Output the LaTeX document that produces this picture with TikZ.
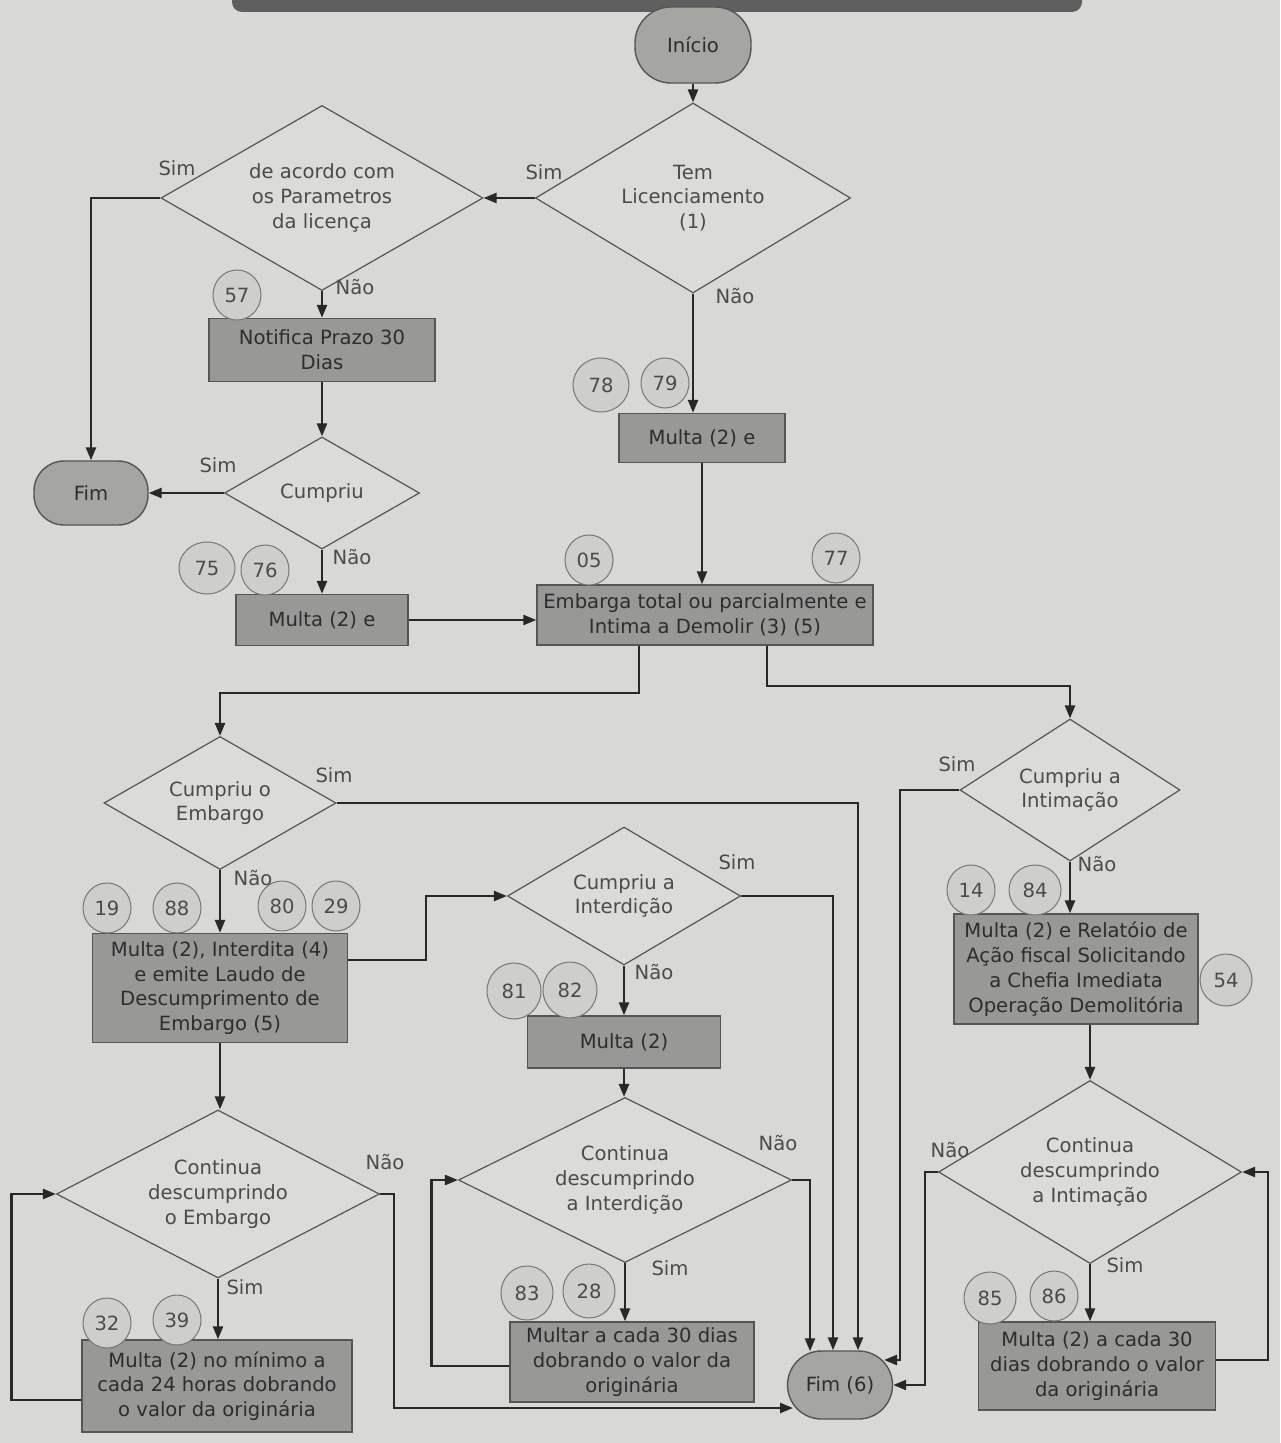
\documentclass[tikz,border=0pt]{standalone}
\usepackage{fontspec}
\setmainfont{DejaVu Sans}
\usetikzlibrary{shapes.geometric,arrows.meta,calc}
\definecolor{bgc}{RGB}{216,216,213}
\definecolor{boxc}{RGB}{152,152,150}
\definecolor{diac}{RGB}{219,219,216}
\definecolor{termc}{RGB}{165,165,162}
\definecolor{circc}{RGB}{206,206,203}
\definecolor{edgec}{RGB}{85,85,85}
\definecolor{linec}{RGB}{40,40,40}
\definecolor{txtc}{RGB}{45,45,45}
\definecolor{txtl}{RGB}{75,75,75}
\definecolor{bandc}{RGB}{95,95,95}
\tikzset{
  every node/.style={font=\fontsize{9.8}{12.4}\selectfont, text=txtc},
  box/.style={rectangle, draw=edgec, line width=0.7pt, fill=boxc, align=center, inner sep=2pt},
  dia/.style={diamond, draw=edgec, line width=0.6pt, fill=diac, align=center, inner sep=0pt, text=txtl},
  term/.style={rectangle, rounded corners=15pt, draw=edgec, line width=0.7pt, fill=termc, align=center, inner sep=2pt},
  circ/.style={ellipse, draw=edgec!80, line width=0.5pt, fill=circc, inner sep=0pt, minimum width=24pt, minimum height=25pt, text=txtl},
  lbl/.style={inner sep=0pt, text=txtl},
  arr/.style={draw=linec, line width=1.2pt, -{Triangle[length=6.5pt,width=5pt]}},
  ln/.style={draw=linec, line width=1.2pt}
}
\begin{document}
\begin{tikzpicture}[x=0.5pt,y=-0.5pt]
\useasboundingbox (0,0) rectangle (1280,1443);
\fill[bgc] (0,0) rectangle (1280,1443);
\fill[bandc, rounded corners=5pt] (232,-30) rectangle (1082,12);

% terminals
\node[term, minimum width=58pt, minimum height=38pt, rounded corners=18pt] (inicio) at (693,45) {Início};
\node[term, minimum width=57pt, minimum height=32pt] (fim1) at (91,493) {Fim};
\node[term, minimum width=52.5pt, minimum height=34pt, rounded corners=17pt] (fim6) at (840,1385) {Fim (6)};

% diamonds
\node[dia, minimum width=157.5pt, minimum height=95pt, aspect=1.66] (d1) at (693,198) {Tem\\Licenciamento\\(1)};
\node[dia, minimum width=161pt, minimum height=92.5pt, aspect=1.74] (d2) at (322,198) {de acordo com\\os Parametros\\da licença};
\node[dia, minimum width=97.5pt, minimum height=56pt, aspect=1.74] (d3) at (322,493) {Cumpriu};
\node[dia, minimum width=116pt, minimum height=66.5pt, aspect=1.74] (d4) at (220,803) {Cumpriu o\\Embargo};
\node[dia, minimum width=110pt, minimum height=71pt, aspect=1.55] (d5) at (1070,790) {Cumpriu a\\Intimação};
\node[dia, minimum width=116.5pt, minimum height=69pt, aspect=1.69] (d6) at (624,896) {Cumpriu a\\Interdição};
\node[dia, minimum width=166.5pt, minimum height=82.5pt, aspect=2.02] (d7) at (625,1180) {Continua\\descumprindo\\a Interdição};
\node[dia, minimum width=161.5pt, minimum height=84pt, aspect=1.92] (d8) at (218,1194) {Continua\\descumprindo\\o Embargo};
\node[dia, minimum width=151.5pt, minimum height=91.5pt, aspect=1.66] (d9) at (1090,1172) {Continua\\descumprindo\\a Intimação};

% boxes
\node[box, minimum width=113pt, minimum height=31.5pt] (b1) at (322,350) {Notifica Prazo 30\\Dias};
\node[box, minimum width=86pt, minimum height=25.5pt] (b2) at (322,620) {Multa (2) e};
\node[box, minimum width=83pt, minimum height=24.5pt] (b3) at (702,438) {Multa (2) e};
\node[box, minimum width=168pt, minimum height=30pt] (b4) at (705,615) {Embarga total ou parcialmente e\\Intima a Demolir (3) (5)};
\node[box, minimum width=127.5pt, minimum height=54.5pt] (b5) at (220,988) {Multa (2), Interdita (4)\\e emite Laudo de\\Descumprimento de\\Embargo (5)};
\node[box, minimum width=96.5pt, minimum height=26pt] (b6) at (624,1042) {Multa (2)};
\node[box, minimum width=122pt, minimum height=40pt] (b7) at (632,1362) {Multar a cada 30 dias\\dobrando o valor da\\originária};
\node[box, minimum width=135pt, minimum height=46pt] (b8) at (217,1386) {Multa (2) no mínimo a\\cada 24 horas dobrando\\o valor da originária};
\node[box, minimum width=122pt, minimum height=55pt] (b9) at (1076,969) {Multa (2) e Relatóio de\\Ação fiscal Solicitando\\a Chefia Imediata\\Operação Demolitória};
\node[box, minimum width=118.5pt, minimum height=44pt] (b10) at (1097,1366) {Multa (2) a cada 30\\dias dobrando o valor\\da originária};

% numbered circles
\node[circ] (c57) at (237,295) {57};
\node[circ, minimum width=28pt, minimum height=27pt] (c78) at (601,385) {78};
\node[circ] (c79) at (665,383) {79};
\node[circ, minimum width=28pt, minimum height=26pt] (c75) at (207,568) {75};
\node[circ] (c76) at (265,570) {76};
\node[circ] (c05) at (589,560) {05};
\node[circ] (c77) at (836,558) {77};
\node[circ] (c19) at (107,908) {19};
\node[circ] (c88) at (177,908) {88};
\node[circ] (c80) at (282,906) {80};
\node[circ] (c29) at (336,906) {29};
\node[circ, minimum width=27pt, minimum height=28pt] (c81) at (514,991) {81};
\node[circ, minimum width=27pt, minimum height=28pt] (c82) at (570,990) {82};
\node[circ, minimum width=26pt, minimum height=27pt] (c83) at (527,1293) {83};
\node[circ, minimum width=26pt, minimum height=27pt] (c28) at (589,1291) {28};
\node[circ] (c32) at (107,1323) {32};
\node[circ] (c39) at (177,1320) {39};
\node[circ] (c14) at (971,890) {14};
\node[circ, minimum width=26pt] (c84) at (1035,890) {84};
\node[circ, minimum width=26pt, minimum height=26pt] (c54) at (1226,980) {54};
\node[circ, minimum width=26pt, minimum height=26pt] (c85) at (990,1298) {85};
\node[circ] (c86) at (1054,1296) {86};

% labels
\node[lbl] (l1) at (544,172) {Sim};
\node[lbl] (l2) at (177,168) {Sim};
\node[lbl] (l3) at (355,287) {Não};
\node[lbl] (l4) at (735,296) {Não};
\node[lbl] (l5) at (218,465) {Sim};
\node[lbl] (l6) at (352,557) {Não};
\node[lbl] (l7) at (334,775) {Sim};
\node[lbl] (l8) at (253,878) {Não};
\node[lbl] (l9) at (737,862) {Sim};
\node[lbl] (l10) at (654,972) {Não};
\node[lbl] (l11) at (957,764) {Sim};
\node[lbl] (l12) at (1097,864) {Não};
\node[lbl] (l13) at (385,1162) {Não};
\node[lbl] (l14) at (245,1287) {Sim};
\node[lbl] (l15) at (778,1143) {Não};
\node[lbl] (l16) at (670,1268) {Sim};
\node[lbl] (l17) at (950,1150) {Não};
\node[lbl] (l18) at (1125,1265) {Sim};

% connectors
\draw[arr] (inicio.south) -- (d1.north);
\draw[arr] (d1.west) -- (d2.east);
\draw[arr] (d1.south) -- (d1.south |- b3.north);
\draw[arr] (b3.south) -- (b3.south |- b4.north);
\draw[arr] (d2.west) -| (fim1.north);
\draw[arr] (d2.south) -- (b1.north);
\draw[arr] (b1.south) -- (d3.north);
\draw[arr] (d3.west) -- (d3.west -| fim1.east);
\draw[arr] (d3.south) -- (b2.north);
\draw[arr] (b2.east) -- (b2.east -| b4.west);

\draw[arr] ($(b4.south)+(-66,0)$) -- ++(0,47) -| (d4.north);
\draw[arr] ($(b4.south)+(62,0)$) -- ++(0,40) -| (d5.north);

\draw[arr] (d4.east) -| ($(fim6.north)+(18,0)$);
\draw[arr] (d4.south) -- (b5.north);
\draw[arr] ($(b5.east)+(0,-28)$) -- ++(78,0) |- (d6.west);
\draw[arr] (d6.east) -| ($(fim6.north)+(-7,0)$);
\draw[arr] (d6.south) -- (b6.north);
\draw[arr] (b6.south) -- (b6.south |- d7.north);
\draw[arr] (d7.east) -| ($(fim6.north)+(-30,1)$);
\draw[arr] (d7.south) -- (d7.south |- b7.north);
\draw[arr] ($(b7.west)+(0,4)$) -- ++(-78,0) |- (d7.west);

\draw[arr] (b5.south) -- (b5.south |- d8.north);
\draw[arr] (d8.south) -- (d8.south |- b8.north);
\draw[arr] ($(b8.west)+(0,14)$) -- ++(-70,0) |- (d8.west);
\draw[arr] (d8.east) -- ++(14,0) |- ($(fim6.center)+(-47,23)$);

\draw[arr] (d5.west) -| ($(fim6.center)+(60,-25)$) -- ($(fim6.center)+(44,-25)$);
\draw[arr] (d5.south) -- (d5.south |- b9.north);
\draw[arr] (b9.south -| d9.north) -- (d9.north);
\draw[arr] (d9.south) -- (d9.south |- b10.north);
\draw[arr] ($(b10.east)+(0,-6)$) -- ++(52,0) |- (d9.east);
\draw[arr] (d9.west) -| ($(fim6.east)+(32,0)$) -- (fim6.east);
\end{tikzpicture}
\end{document}
